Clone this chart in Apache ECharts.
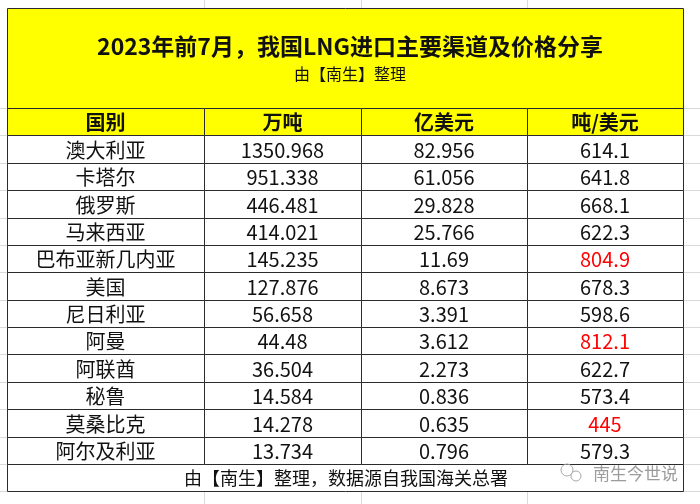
<!DOCTYPE html>
<html>
<head>
<meta charset="utf-8">
<script src="https://cdn.jsdelivr.net/npm/echarts@6/dist/echarts.min.js"></script>
<style>
  html, body {margin: 0; padding: 0; background: #fff;}
  #chart {width: 700px; height: 504px;}
</style>
</head>
<body>
<div id="chart"></div>
<script>
// 表格数据
const titleText = "2023年前7月，我国LNG进口主要渠道及价格分享"
const subText = "由【南生】整理"
const footText = "由【南生】整理，数据源自我国海关总署"
const markText = "南生今世说"
const headers = ["国别", "万吨", "亿美元", "吨/美元"]
const countries = ["澳大利亚", "卡塔尔", "俄罗斯", "马来西亚", "巴布亚新几内亚", "美国",
  "尼日利亚", "阿曼", "阿联酋", "秘鲁", "莫桑比克", "阿尔及利亚"]
const volume = ["1350.968", "951.338", "446.481", "414.021", "145.235", "127.876",
  "56.658", "44.48", "36.504", "14.584", "14.278", "13.734"]
const amount = ["82.956", "61.056", "29.828", "25.766", "11.69", "8.673",
  "3.391", "3.612", "2.273", "0.836", "0.635", "0.796"]
const price = ["614.1", "641.8", "668.1", "622.3", "804.9", "678.3",
  "598.6", "812.1", "622.7", "573.4", "445", "579.3"]
// 价格异常，标红
const redRows = ["巴布亚新几内亚", "阿曼", "莫桑比克"]

// 版式
const colWidths = [197, 157, 166, 156]
const colStarts = colWidths.map((w, i) => colWidths.slice(0, i).reduce((a, b) => a + b, 0))
const tableW = colWidths.reduce((a, b) => a + b, 0)
const LEFT = 7, TOP = 8, TITLE_H = 100, BODY_TOP = 108, BODY_BOTTOM = 464, FOOT_H = 27
const rowH = (BODY_BOTTOM - BODY_TOP) / (countries.length + 1)
const FONT = '"Noto Sans CJK SC", "Noto Sans", sans-serif'
const YELLOW = "#ffff00", BORDER = "#2b2b2b", SHEET = "#dadada"

const rows = ["header"].concat(countries)
const columns = [countries, volume, amount, price]
const cells = []
rows.forEach((_, r) => headers.forEach((__, c) => cells.push([c, r])))

const cellText = (r, c) => r === 0 ? headers[c] : columns[c][r - 1]

const renderCell = (params, api) => {
  const c = api.value(0)
  const r = api.value(1)
  const p0 = api.coord([colStarts[c], r])
  const p1 = api.coord([colStarts[c] + colWidths[c], r])
  const band = api.size([0, 1])[1]
  const x0 = Math.round(p0[0]), x1 = Math.round(p1[0])
  const y0 = Math.round(p0[1] - band / 2), y1 = Math.round(p0[1] + band / 2)
  const isHead = r === 0
  const red = !isHead && c === 3 && redRows.indexOf(countries[r - 1]) > -1
  return {
    type: "group",
    children: [
      {
        type: "rect",
        shape: {x: x0 + 0.5, y: y0 + 0.5, width: x1 - x0, height: y1 - y0},
        style: {fill: isHead ? YELLOW : "#fff", stroke: BORDER, lineWidth: 1},
      },
      {
        type: "text",
        style: {
          text: cellText(r, c),
          x: (x0 + x1) / 2,
          y: (y0 + y1) / 2 + 1,
          align: "center",
          verticalAlign: "middle",
          fill: red ? "#ff0000" : "#111",
          font: (isHead ? "bold " : "") + "20px " + FONT,
        },
      },
    ],
  }
}

// 表格外的表格线（电子表格背景）
const sheetLines = []
for (let k = 0; k <= rows.length + 1; k++) {
  const y = Math.round(BODY_TOP + k * rowH) + 0.5
  sheetLines.push({type: "line", shape: {x1: 0, y1: y, x2: LEFT, y2: y}})
  sheetLines.push({type: "line", shape: {x1: LEFT + tableW, y1: y, x2: 700, y2: y}})
}
colStarts.slice(1).forEach((s) => {
  const x = LEFT + s + 0.5
  sheetLines.push({type: "line", shape: {x1: x, y1: 0, x2: x, y2: TOP}})
  sheetLines.push({type: "line", shape: {x1: x, y1: BODY_BOTTOM + FOOT_H, x2: x, y2: 504}})
})
sheetLines.forEach((l) => { l.style = {stroke: SHEET, lineWidth: 1}; l.z = 0 })

const chart = echarts.init(document.getElementById("chart"))
chart.setOption({
  animation: false,
  backgroundColor: "#fff",
  title: {
    text: titleText,
    subtext: subText,
    left: "center",
    top: 35,
    padding: 0,
    itemGap: 8,
    textStyle: {fontFamily: FONT, fontSize: 23, fontWeight: "bold", color: "#111"},
    subtextStyle: {fontFamily: FONT, fontSize: 16, color: "#111"},
  },
  grid: {left: LEFT, top: BODY_TOP, right: 700 - LEFT - tableW, bottom: 504 - BODY_BOTTOM},
  xAxis: {type: "value", min: 0, max: tableW, show: false},
  yAxis: {type: "category", data: rows, inverse: true, show: false},
  graphic: [
    {type: "group", children: sheetLines},
    {
      type: "rect", z: 1,
      shape: {x: LEFT + 0.5, y: TOP + 0.5, width: tableW, height: TITLE_H},
      style: {fill: YELLOW, stroke: BORDER, lineWidth: 1},
    },
    {
      type: "rect", z: 1,
      shape: {x: LEFT + 0.5, y: BODY_BOTTOM + 0.5, width: tableW, height: FOOT_H},
      style: {fill: "#fff", stroke: BORDER, lineWidth: 1},
    },
    {
      type: "text", z: 2,
      style: {
        text: footText, x: 346, y: BODY_BOTTOM + FOOT_H / 2 + 1,
        align: "center", verticalAlign: "middle", fill: "#111", font: "18px " + FONT,
      },
    },
    // 水印
    {
      type: "circle", z: 3, shape: {cx: 567, cy: 470, r: 6},
      style: {fill: "none", stroke: "#a8a8a8", lineWidth: 1},
    },
    {
      type: "circle", z: 4, shape: {cx: 576, cy: 476, r: 5},
      style: {fill: "#fff", stroke: "#a8a8a8", lineWidth: 1},
    },
    {
      type: "text", z: 4,
      style: {
        text: markText, x: 593, y: 474, align: "left", verticalAlign: "middle",
        fill: "#9c9c9c", font: "17px " + FONT,
      },
    },
  ],
  series: [
    {
      type: "custom",
      renderItem: renderCell,
      data: cells,
      silent: true,
      z: 2,
    },
  ],
})
</script>
</body>
</html>
